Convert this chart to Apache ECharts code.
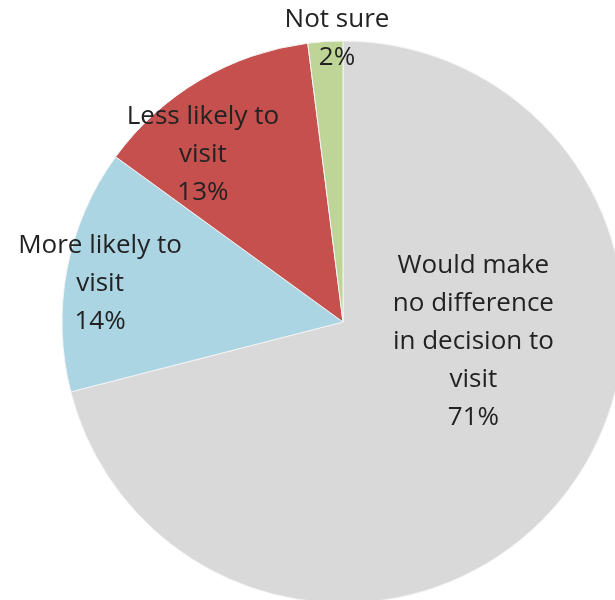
<!DOCTYPE html>
<html lang="en">
<head>
    <meta charset="UTF-8">
    <title>Visit decision pie</title>
    <script src="https://cdn.jsdelivr.net/npm/echarts@6/dist/echarts.min.js"></script>
    <style>
        html, body { margin: 0; padding: 0; background: #fff; }
        #main { width: 615px; height: 600px; }
    </style>
</head>
<body>
<div id="main"></div>
<script type="text/javascript">
  // slices, clockwise from 12 o'clock
  var names = ['Would make\nno difference\nin decision to\nvisit', 'More likely to\nvisit', 'Less likely to\nvisit', 'Not sure'];
  var values = [71, 14, 13, 2];
  var colors = ['#d9d9d9', '#abd5e3', '#c6504e', '#bfd597'];

  // nudge labels to where the original had them
  var labelShift = [[17, -68], [-102, -12], [-67, -44], [3, -140]];

  var myChart = echarts.init(document.getElementById('main'));
  var option = {
    backgroundColor: '#fff',
    animation: false,
    series: [
      {
        type: 'pie',
        center: [343, 322],
        radius: 281,
        startAngle: 90,
        clockwise: true,
        avoidLabelOverlap: false,
        itemStyle: {
          borderColor: '#f4f4f4',
          borderWidth: 1
        },
        label: {
          show: true,
          position: 'inside',
          formatter: '{b}\n{c}%',
          color: '#222',
          fontFamily: 'Open Sans',
          fontSize: 26,
          lineHeight: 38,
          align: 'center'
        },
        labelLayout: function (params) {
          var s = labelShift[params.dataIndex];
          return { dx: s[0], dy: s[1] };
        },
        emphasis: { disabled: true },
        data: names.map(function (n, i) {
          return { name: n, value: values[i], itemStyle: { color: colors[i] } };
        })
      }
    ]
  };
  myChart.setOption(option);

  window.addEventListener('resize', function () {
    myChart.resize();
  });
</script>
</body>
</html>
